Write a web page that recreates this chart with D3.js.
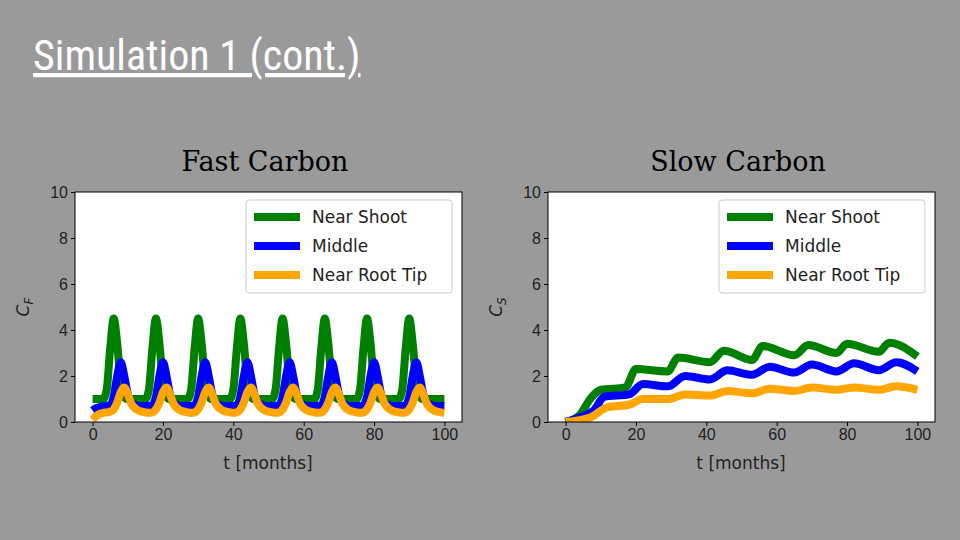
<!DOCTYPE html>
<html><head><meta charset="utf-8">
<script src="https://cdn.jsdelivr.net/npm/d3@7"></script>
<style>body{margin:0;background:#9a9a9a}</style>
</head><body>
<script>
// fast carbon, monthly samples t = 0..100
var fastT = d3.range(0, 101);
var fastShoot = [1,1,1,1,1.4,3.2,4.5,3.4,1.7,1.1,1,1,
  1,1,1,1,1.4,3.2,4.5,3.4,1.7,1.1,1,1,
  1,1,1,1,1.4,3.2,4.5,3.4,1.7,1.1,1,1,
  1,1,1,1,1.4,3.2,4.5,3.4,1.7,1.1,1,1,
  1,1,1,1,1.4,3.2,4.5,3.4,1.7,1.1,1,1,
  1,1,1,1,1.4,3.2,4.5,3.4,1.7,1.1,1,1,
  1,1,1,1,1.4,3.2,4.5,3.4,1.7,1.1,1,1,
  1,1,1,1,1.4,3.2,4.5,3.4,1.7,1.1,1,1,
  1,1,1,1,1];
var fastMiddle = [0.5,0.6,0.65,0.68,0.7,0.75,1.1,2.0,2.6,2.0,1.2,0.85,
  0.75,0.7,0.7,0.7,0.7,0.75,1.1,2.0,2.6,2.0,1.2,0.85,
  0.75,0.7,0.7,0.7,0.7,0.75,1.1,2.0,2.6,2.0,1.2,0.85,
  0.75,0.7,0.7,0.7,0.7,0.75,1.1,2.0,2.6,2.0,1.2,0.85,
  0.75,0.7,0.7,0.7,0.7,0.75,1.1,2.0,2.6,2.0,1.2,0.85,
  0.75,0.7,0.7,0.7,0.7,0.75,1.1,2.0,2.6,2.0,1.2,0.85,
  0.75,0.7,0.7,0.7,0.7,0.75,1.1,2.0,2.6,2.0,1.2,0.85,
  0.75,0.7,0.7,0.7,0.7,0.75,1.1,2.0,2.6,2.0,1.2,0.85,
  0.75,0.7,0.7,0.7,0.7];
var fastRoot = [0.1,0.25,0.35,0.4,0.42,0.45,0.55,0.85,1.3,1.5,1.2,0.8,
  0.6,0.5,0.45,0.42,0.4,0.42,0.55,0.85,1.3,1.5,1.2,0.8,
  0.6,0.5,0.45,0.42,0.4,0.42,0.55,0.85,1.3,1.5,1.2,0.8,
  0.6,0.5,0.45,0.42,0.4,0.42,0.55,0.85,1.3,1.5,1.2,0.8,
  0.6,0.5,0.45,0.42,0.4,0.42,0.55,0.85,1.3,1.5,1.2,0.8,
  0.6,0.5,0.45,0.42,0.4,0.42,0.55,0.85,1.3,1.5,1.2,0.8,
  0.6,0.5,0.45,0.42,0.4,0.42,0.55,0.85,1.3,1.5,1.2,0.8,
  0.6,0.5,0.45,0.42,0.4,0.42,0.55,0.85,1.3,1.5,1.2,0.8,
  0.6,0.5,0.45,0.42,0.4];

// slow carbon, key points
var slowShootT = [0,4,7,10,17,20,29,32,41,45,53,56,65,69,77,80,89,92,100];
var slowShoot = [0,0.3,1.0,1.4,1.5,2.3,2.2,2.8,2.6,3.1,2.7,3.3,2.9,3.35,3.0,3.4,3.05,3.45,2.85];
var slowMiddleT = [0,4,8,11,18,22,29,34,41,46,53,58,65,70,77,82,89,94,100];
var slowMiddle = [0,0.2,0.5,1.1,1.2,1.65,1.55,2.0,1.85,2.25,2.05,2.4,2.15,2.5,2.2,2.55,2.25,2.6,2.2];
var slowRootT = [0,7,12,18,22,29,34,41,46,53,58,65,70,77,82,89,94,100];
var slowRoot = [0,0.2,0.65,0.75,1.0,1.0,1.2,1.15,1.35,1.25,1.45,1.35,1.5,1.4,1.5,1.4,1.55,1.4];

var seriesNames = ["Near Shoot", "Middle", "Near Root Tip"];
var colors = ["green", "blue", "orange"];
var xTicks = [0, 20, 40, 60, 80, 100];
var yTicks = [0, 2, 4, 6, 8, 10];

var svg = d3.select('body').append('svg')
  .attr('width', 960).attr('height', 540)
  .style('font-family', 'DejaVu Sans');

svg.append('text').attr('x', 33).attr('y', 70)
  .attr('fill', 'white').attr('font-size', 42)
  .attr('font-family', "'Liberation Sans Narrow', 'Roboto Condensed', Roboto")
  .attr('text-decoration', 'underline')
  .style('font-stretch', 'condensed')
  .text('Simulation 1 (cont.)');

function panel(left, title, ylab, sub, lines) {
  var x = d3.scaleLinear().domain([-5, 105]).range([left, left + 387]);
  var y = d3.scaleLinear().domain([0, 10]).range([422, 192]);
  var g = svg.append('g');
  g.append('rect').attr('x', left).attr('y', 192).attr('width', 387).attr('height', 230)
    .attr('fill', 'white');
  g.append('text').attr('x', left + 190).attr('y', 171).attr('text-anchor', 'middle')
    .attr('font-family', "'DejaVu Serif', 'Liberation Serif', serif").attr('font-size', 27)
    .text(title);

  var clip = 'clip' + left;
  g.append('clipPath').attr('id', clip).append('rect')
    .attr('x', left).attr('y', 192).attr('width', 387).attr('height', 230);
  var lg = g.append('g').attr('clip-path', 'url(#' + clip + ')');
  lines.forEach(function (s, i) {
    var line = d3.line().curve(d3.curveMonotoneX)
      .x(function (d) { return x(d[0]); }).y(function (d) { return y(d[1]); });
    lg.append('path').datum(d3.zip(s[0], s[1]))
      .attr('d', line).attr('fill', 'none').attr('stroke', colors[i])
      .attr('stroke-width', 8).attr('stroke-linejoin', 'round');
  });

  g.append('rect').attr('x', left).attr('y', 192).attr('width', 387).attr('height', 230)
    .attr('fill', 'none').attr('stroke', 'black').attr('stroke-width', 1);

  g.append('g').attr('transform', 'translate(0,422)')
    .call(d3.axisBottom(x).tickValues(xTicks).tickSize(4).tickPadding(3))
    .call(function (a) { a.select('.domain').remove(); a.selectAll('text').attr('font-size', 16).attr('fill', '#222'); });
  g.append('g').attr('transform', 'translate(' + left + ',0)')
    .call(d3.axisLeft(y).tickValues(yTicks).tickSize(4).tickPadding(3))
    .call(function (a) { a.select('.domain').remove(); a.selectAll('text').attr('font-size', 16).attr('fill', '#222'); });

  g.append('text').attr('x', left + 193).attr('y', 469).attr('text-anchor', 'middle')
    .attr('font-size', 17).attr('fill', '#222').text('t [months]');
  var yl = g.append('text').attr('transform', 'translate(' + (left - 46) + ',307) rotate(-90)')
    .attr('text-anchor', 'middle').attr('font-size', 17).attr('font-style', 'italic').attr('fill', '#222');
  yl.append('tspan').text(ylab);
  yl.append('tspan').attr('font-size', 12).attr('dy', 4).text(sub);

  var lx = left + 171;
  g.append('rect').attr('x', lx).attr('y', 200).attr('width', 206).attr('height', 93)
    .attr('rx', 3).attr('fill', 'white').attr('stroke', '#ccc');
  seriesNames.forEach(function (n, i) {
    var yy = 217 + i * 29;
    g.append('line').attr('x1', lx + 8).attr('x2', lx + 54).attr('y1', yy).attr('y2', yy)
      .attr('stroke', colors[i]).attr('stroke-width', 8);
    g.append('text').attr('x', lx + 66).attr('y', yy + 6).attr('font-size', 17)
      .attr('fill', '#222').text(n);
  });
}

panel(75, 'Fast Carbon', 'C', 'F',
  [[fastT, fastShoot], [fastT, fastMiddle], [fastT, fastRoot]]);
panel(548, 'Slow Carbon', 'C', 'S',
  [[slowShootT, slowShoot], [slowMiddleT, slowMiddle], [slowRootT, slowRoot]]);
</script>
</body></html>
